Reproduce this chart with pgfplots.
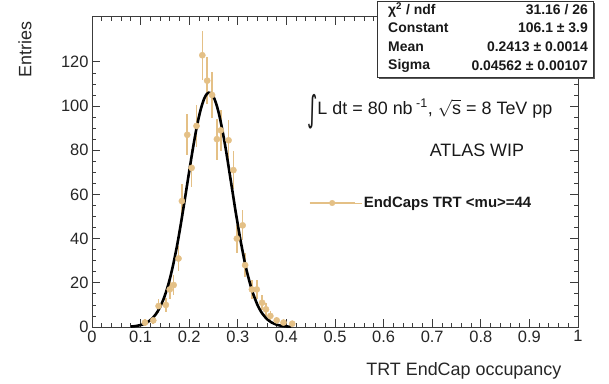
\documentclass[border=0pt]{standalone}
\usepackage{pgfplots}
\pgfplotsset{compat=1.18}
\usepackage{pgfplotstable}
\usepackage{graphicx}
\usepackage{fontspec}
\setmainfont{Liberation Sans}
\newfontfamily\dejavu{DejaVu Sans}
\definecolor{tanc}{RGB}{228,192,134}
\definecolor{axc}{RGB}{60,60,60}
\pgfplotstableread{
x      y      ex     ey
0.109  2      0.005  1.41
0.126  3      0.005  1.73
0.137  9.5    0.005  3.08
0.152  10     0.005  3.16
0.160  17     0.005  4.12
0.168  19     0.005  4.36
0.178  31     0.005  5.57
0.185  57     0.005  7.55
0.196  87     0.005  9.33
0.205  72     0.005  8.49
0.215  91     0.005  9.54
0.227  123    0.005  11.09
0.237  111.5  0.005  10.56
0.247  105    0.005  10.25
0.257  85     0.005  9.22
0.265  89     0.005  9.43
0.281  84.5   0.005  9.19
0.291  71     0.005  8.43
0.298  40     0.005  6.32
0.310  46     0.005  6.78
0.315  28     0.005  5.29
0.329  17     0.005  4.12
0.339  17     0.005  4.12
0.350  11     0.005  3.32
0.358  8      0.005  2.83
0.367  5      0.005  2.24
0.380  3      0.005  1.73
0.394  2      0.005  1.41
0.412  1.5    0.005  1.22
}\datatable
\pgfplotstableread{
x      y
0.080  0.20
0.090  0.43
0.100  0.88
0.105  1.2
0.110  1.69
0.115  2.3
0.120  3.09
0.125  4.1
0.130  5.41
0.135  7.0
0.140  9.01
0.145  11.4
0.150  14.31
0.155  17.7
0.160  21.68
0.165  26.2
0.170  31.29
0.175  36.8
0.180  43.01
0.185  49.6
0.190  56.39
0.195  63.4
0.200  70.42
0.205  77.3
0.210  83.85
0.215  89.9
0.220  95.14
0.225  99.5
0.230  102.90
0.235  105.1
0.240  106.06
0.245  105.8
0.250  104.19
0.255  101.4
0.260  97.55
0.265  92.7
0.270  87.05
0.275  80.8
0.280  74.04
0.285  67.0
0.290  60.01
0.295  52.9
0.300  46.37
0.305  39.9
0.310  34.15
0.315  28.6
0.320  23.96
0.325  19.8
0.330  16.03
0.335  13.0
0.340  10.22
0.345  8.0
0.350  6.20
0.355  4.8
0.360  3.59
0.365  2.7
0.370  1.99
0.375  1.5
0.380  1.04
0.390  0.52
0.400  0.25
0.410  0.11
}\fittable
\begin{document}
\begin{tikzpicture}[x=1bp,y=1bp]
\useasboundingbox (0,0) rectangle (609,383);
\begin{axis}[
  at={(92bp,56bp)}, anchor=south west,
  scale only axis, width=486bp, height=310bp,
  xmin=0, xmax=1, ymin=0, ymax=140.3,
  xtick={0,0.1,0.2,0.3,0.4,0.5,0.6,0.7,0.8,0.9,1},
  xticklabels={0,0.1,0.2,0.3,0.4,0.5,0.6,0.7,0.8,0.9,1},
  ytick={0,20,40,60,80,100,120},
  minor x tick num=4, minor y tick num=3,
  tick align=inside,
  major tick length=8bp, minor tick length=4bp,
  axis line style={line width=1pt, axc},
  every tick/.style={line width=0.8pt, axc},
  /pgf/number format/assume math mode=true,
  tick label style={font=\fontsize{16.5}{18}\selectfont, black!85},
  xlabel={TRT EndCap occupancy},
  ylabel={Entries},
  label style={font=\fontsize{18}{20}\selectfont, black!85},
  xlabel style={at={(axis description cs:0.973,-0.142)}, anchor=east},
  ylabel style={at={(axis description cs:-0.138,0.997)}, anchor=east},
  legend style={at={(rel axis cs:0.44,0.4)}, anchor=west, draw=none, fill=none,
    font=\bfseries\fontsize{15}{17}\selectfont, text=black!90},
  legend image code/.code={%
    \draw[tanc, line width=1.3bp] (0bp,0bp) -- (45bp,0bp);
    \fill[tanc] (22.5bp,0bp) circle (2.8bp);
    \path (0bp,0bp) -- (52bp,0bp);},
]
\addplot[only marks, mark=*, mark size=3.1bp, color=tanc,
  error bars/.cd, x dir=both, x explicit, y dir=both, y explicit,
  error bar style={line width=1.6bp, tanc}, error mark=none]
  table[x=x, y=y, x error=ex, y error=ey] {\datatable};
\addlegendentry{EndCaps TRT <mu>=44}
\addplot[black, line width=2.6bp, smooth, no marks, forget plot] table[x=x, y=y] {\fittable};
\node[font=\fontsize{18}{20}\selectfont, black!90] at (rel axis cs:0.695,0.694)
  {\raisebox{-0.42em}{\dejavu\scalebox{1.1}[2.0]{∫}}L dt = 80 nb\textsuperscript{ -1}, $\sqrt{\mbox{s}}$ = 8 TeV pp};
\node[font=\fontsize{18}{20}\selectfont, black!90] at (rel axis cs:0.792,0.571) {ATLAS WIP};
\end{axis}
\fill[black!65] (379,304) rectangle (595,380);
\filldraw[fill=white, draw=black!80, line width=0.8bp] (377,306) rectangle (593,382);
\begin{scope}[every node/.style={font=\bfseries\fontsize{14}{16}\selectfont, black!90, inner sep=0pt}]
\node[anchor=west] at (388,373) {χ\textsuperscript{2} / ndf};
\node[anchor=east] at (588,373) {31.16 / 26};
\node[anchor=west] at (388,355) {Constant};
\node[anchor=east] at (588,355) {106.1 ± 3.9};
\node[anchor=west] at (388,336) {Mean};
\node[anchor=east] at (588,336) {0.2413 ± 0.0014};
\node[anchor=west] at (388,317) {Sigma};
\node[anchor=east] at (588,317) {0.04562 ± 0.00107};
\end{scope}
\end{tikzpicture}
\end{document}
